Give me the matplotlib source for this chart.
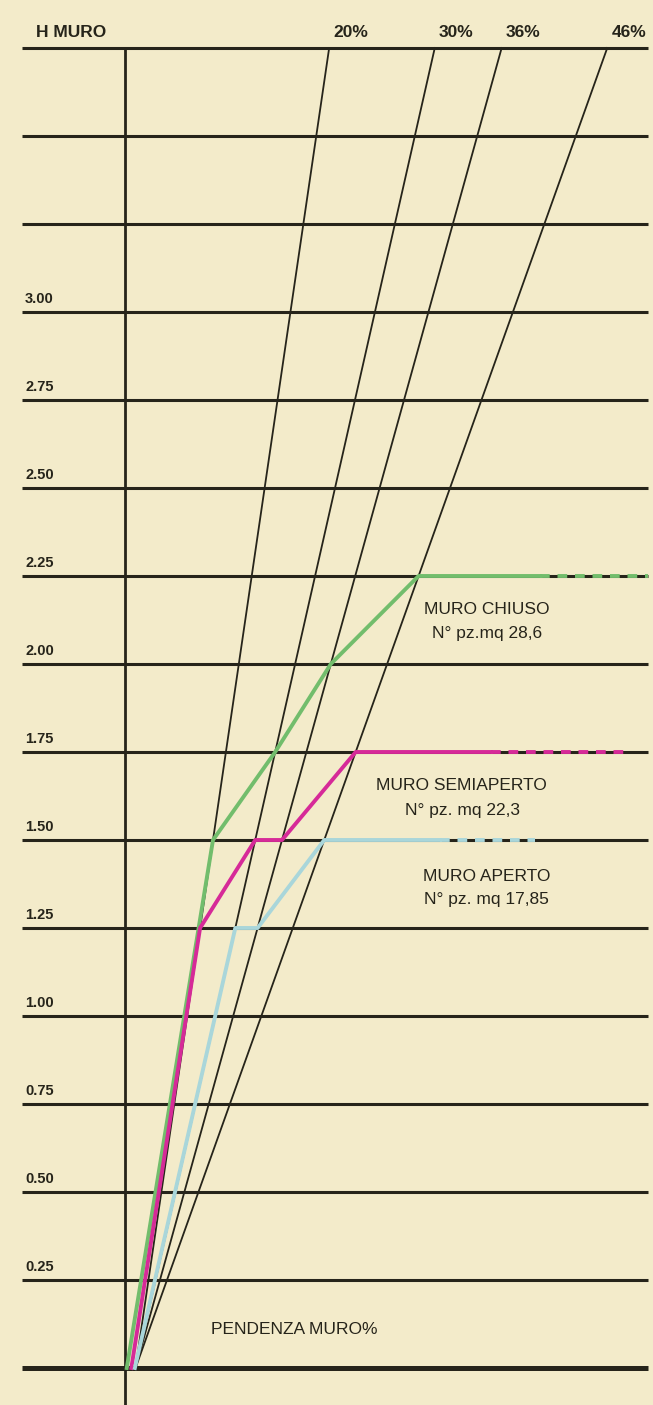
import numpy as np
import matplotlib
matplotlib.use("Agg")
import matplotlib.pyplot as plt

# altezze muro (m) delle righe orizzontali
heights = [0.0, 0.25, 0.50, 0.75, 1.00, 1.25, 1.50, 1.75, 2.00,
           2.25, 2.50, 2.75, 3.00, 3.25, 3.50, 3.75]
tick_labels = {0.25: '0.25', 0.50: '0.50', 0.75: '0.75', 1.00: '1.00',
               1.25: '1.25', 1.50: '1.50', 1.75: '1.75', 2.00: '2.00',
               2.25: '2.25', 2.50: '2.50', 2.75: '2.75', 3.00: '3.00'}

# rette di pendenza: scostamento orizzontale (m, scala disegno) in cima (H=3.75)
slope_names = ['20%', '30%', '36%', '46%']
slope_top_x = [0.58, 0.88, 1.07, 1.37]
slope_base_x = 0.03

# curve limite: (indice retta, altezza) dei vertici
chiuso_nodes = [(0, 1.50), (1, 1.75), (2, 2.00), (3, 2.25)]
semiaperto_nodes = [(0, 1.25), (1, 1.50), (2, 1.50), (3, 1.75)]
aperto_nodes = [(1, 1.25), (2, 1.25), (3, 1.50)]

BG = '#f3ebca'
INK = '#26241a'
GREEN = '#72bd6c'
MAGENTA = '#d62a98'
CYAN = '#a9d6da'

H_TOP = heights[-1]
X_LEFT, X_RIGHT = -0.293, 1.486


def slope_x(i, h):
    return slope_base_x + (slope_top_x[i] - slope_base_x) * h / H_TOP


fig = plt.figure(figsize=(6.53, 14.05), dpi=100, facecolor=BG)
ax = fig.add_axes([0, 0, 1, 1])
ax.set_facecolor(BG)
ax.set_xlim(-125 / 352, 528 / 352)
ax.set_ylim(-37 / 352, 1368 / 352)
ax.axis('off')

sans = ['Liberation Sans', 'DejaVu Sans']

# righe orizzontali
for h in heights:
    lw = 3.6 if h == 0 else 2.2
    ax.plot([X_LEFT, X_RIGHT], [h, h], color=INK, lw=lw, solid_capstyle='butt', zorder=2)
    if h in tick_labels:
        ax.text(-0.284, h + 0.016, tick_labels[h], family=sans, fontweight='bold',
                fontsize=10.5, color=INK, ha='left', va='bottom')

# asse verticale
ax.plot([0, 0], [-0.11, H_TOP], color=INK, lw=2.0, zorder=3)

# rette di pendenza
for i, name in enumerate(slope_names):
    ax.plot([slope_base_x, slope_top_x[i]], [0, H_TOP], color=INK, lw=1.3, zorder=3)
    ax.text(slope_top_x[i] + 0.012, H_TOP + 0.022, name, family=sans, fontweight='bold',
            fontsize=12.5, color=INK, ha='left', va='bottom')

ax.text(-0.252, H_TOP + 0.022, 'H MURO', family=sans, fontweight='bold',
        fontsize=12.5, color=INK, ha='left', va='bottom')


def draw_curve(nodes, base, color, solid_end, dash_end):
    xs = [base] + [slope_x(i, h) for i, h in nodes]
    ys = [0.0] + [h for _, h in nodes]
    top = ys[-1]
    xs.append(solid_end)
    ys.append(top)
    ax.plot(xs, ys, color=color, lw=2.8, zorder=4, solid_joinstyle='round')
    ax.plot([solid_end, dash_end], [top, top], color=color, lw=2.8, zorder=4,
            linestyle=(0, (2.5, 2.0)))


draw_curve(chiuso_nodes, 0.005, GREEN, 1.18, X_RIGHT)
draw_curve(semiaperto_nodes, 0.018, MAGENTA, 1.04, 1.42)
draw_curve(aperto_nodes, 0.028, CYAN, 0.895, 1.165)

lab = dict(family=sans, fontsize=12.5, color=INK, ha='center', va='center')
ax.text(1.028, 2.156, 'MURO CHIUSO', **lab)
ax.text(1.030, 2.088, 'N° pz.mq 28,6', **lab)
ax.text(0.957, 1.656, 'MURO SEMIAPERTO', **lab)
ax.text(0.960, 1.585, 'N° pz. mq 22,3', **lab)
ax.text(1.028, 1.397, 'MURO APERTO', **lab)
ax.text(1.028, 1.332, 'N° pz. mq 17,85', **lab)
ax.text(0.48, 0.108, 'PENDENZA MURO%', **lab)

fig.savefig('out.png', dpi=100, facecolor=BG)
